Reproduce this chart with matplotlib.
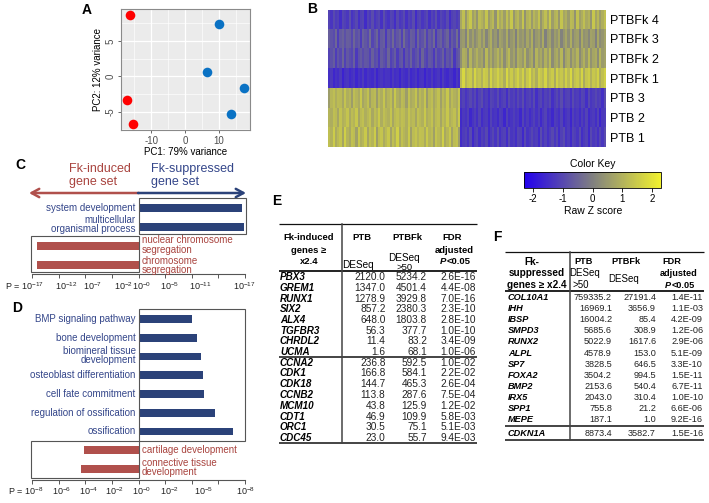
import numpy as np
import matplotlib
matplotlib.use('Agg')
import matplotlib.pyplot as plt
from matplotlib.colors import LinearSegmentedColormap
from matplotlib.patches import Rectangle

plt.rcParams['font.family'] = ['Liberation Sans', 'DejaVu Sans']
plt.rcParams['mathtext.fontset'] = 'custom'
plt.rcParams['mathtext.rm'] = 'Liberation Sans'
plt.rcParams['mathtext.it'] = 'Liberation Sans:italic'
plt.rcParams['mathtext.bf'] = 'Liberation Sans:bold'
plt.rcParams['axes.unicode_minus'] = False

# ---------------- data ----------------
# Panel A (PCA)
pca_ptb_x = [-16.2, -17.0, -15.3]
pca_ptb_y = [8.6, -3.4, -6.8]
pca_fk_x = [10.0, 6.6, 17.3, 13.5]
pca_fk_y = [7.4, 0.6, -1.7, -5.3]

# Panel B (heatmap)
heat_rows = ['PTBFk 4', 'PTBFk 3', 'PTBFk 2', 'PTBFk 1', 'PTB 3', 'PTB 2', 'PTB 1']
level_left = [-1.2, -0.8, -0.9, -1.45, 1.0, 1.1, 1.1]
level_right = [0.9, 0.45, 0.65, 1.3, -1.2, -1.35, -1.25]
amp_left = [0.35, 0.5, 0.45, 0.25, 0.5, 0.4, 0.55]
amp_right = [0.6, 0.5, 0.55, 0.5, 0.3, 0.3, 0.35]
row_shift = [0, 9, 17, 26, 5, 33, 41]
texture_left = [0.3, -0.4, 0.7, -0.1, 0.2, -0.8, 0.5, 0.1, -0.3, 0.9,
                -0.5, 0.0, 0.6, -0.7, 0.2, 0.4, -0.9, 0.3, -0.2, 0.8,
                -0.4, 0.1, 0.5, -0.6, 0.9, -0.1, -0.5, 0.4, 0.2, -0.8,
                0.6, -0.3, 0.0, 0.7, -0.6, 0.3, -0.1, 0.8, -0.9, 0.2,
                0.5, -0.4, 0.1, 0.6, -0.7, 0.3, -0.2, 0.9, -0.5, 0.4,
                0.0, -0.3, 0.7, -0.8, 0.2, 0.5, -0.1, 0.4]
texture_right = [-0.2, 0.6, -0.7, 0.3, 0.9, -0.4, 0.1, -0.8, 0.5, 0.2,
                 -0.3, 0.8, -0.6, 0.0, 0.4, -0.9, 0.7, -0.1, 0.3, -0.5,
                 0.6, -0.2, 0.9, -0.7, 0.1, 0.4, -0.4, 0.8, -0.9, 0.2,
                 0.5, -0.6, 0.3, -0.1, 0.7, -0.8, 0.0, 0.6, -0.3, 0.9,
                 -0.5, 0.2, 0.4, -0.7, 0.8, -0.2, 0.1, -0.6, 0.5, 0.3,
                 -0.9, 0.7, -0.4, 0.0, 0.6, -0.1, 0.2, -0.8, 0.9, -0.3,
                 0.4, -0.5, 0.1, 0.7]
cbar_ticks = [-2, -1, 0, 1, 2]

# Panel C (GO terms, -log10 P; positive = Fk-suppressed, negative = Fk-induced)
c_terms = ['system development', 'multicellular\norganismal process',
           'nuclear chromosome\nsegregation', 'chromosome\nsegregation']
c_scores = [16.5, 16.8, -16.2, -16.2]
c_tick_labels = ['P = 10$^{-17}$', '10$^{-12}$', '10$^{-7}$', '10$^{-2}$',
                 '10$^{-0}$', '10$^{-5}$', '10$^{-11}$', '10$^{-17}$']

# Panel D
d_terms = ['BMP signaling pathway', 'bone development', 'biomineral tissue\ndevelopment',
           'osteoblast differentiation', 'cell fate commitment', 'regulation of ossification',
           'ossification', 'cartilage development', 'connective tissue\ndevelopment']
d_scores = [4.05, 4.38, 4.72, 4.83, 4.9, 5.72, 7.08, -4.08, -4.3]
d_tick_labels = ['P = 10$^{-8}$', '10$^{-6}$', '10$^{-4}$', '10$^{-2}$',
                 '10$^{-0}$', '10$^{-2}$', '10$^{-5}$', '10$^{-8}$']

# Panel E table
e_genes = ['PBX3', 'GREM1', 'RUNX1', 'SIX2', 'ALX4', 'TGFBR3', 'CHRDL2', 'UCMA',
           'CCNA2', 'CDK1', 'CDK18', 'CCNB2', 'MCM10', 'CDT1', 'ORC1', 'CDC45']
e_ptb = ['2120.0', '1347.0', '1278.9', '857.2', '648.0', '56.3', '11.4', '1.6',
         '236.8', '166.8', '144.7', '113.8', '43.8', '46.9', '30.5', '23.0']
e_ptbfk = ['5234.2', '4501.4', '3929.8', '2380.3', '1803.8', '377.7', '83.2', '68.1',
           '592.5', '584.1', '465.3', '287.6', '125.9', '109.9', '75.1', '55.7']
e_fdr = ['2.6E-16', '4.4E-08', '7.0E-16', '2.3E-10', '2.8E-10', '1.0E-10', '3.4E-09', '1.0E-06',
         '1.0E-02', '2.2E-02', '2.6E-04', '7.5E-04', '1.2E-02', '5.8E-03', '5.1E-03', '9.4E-03']

# Panel F table
f_genes = ['COL10A1', 'IHH', 'IBSP', 'SMPD3', 'RUNX2', 'ALPL', 'SP7', 'FOXA2',
           'BMP2', 'IRX5', 'SPP1', 'MEPE', 'CDKN1A']
f_ptb = ['759335.2', '16969.1', '16004.2', '5685.6', '5022.9', '4578.9', '3828.5',
         '3504.2', '2153.6', '2043.0', '755.8', '187.1', '8873.4']
f_ptbfk = ['27191.4', '3656.9', '85.4', '308.9', '1617.6', '153.0', '646.5',
           '994.5', '540.4', '310.4', '21.2', '1.0', '3582.7']
f_fdr = ['1.4E-11', '1.1E-03', '4.2E-09', '1.2E-06', '2.9E-06', '5.1E-09', '3.3E-10',
         '1.5E-11', '6.7E-11', '1.0E-10', '6.6E-06', '9.2E-16', '1.5E-16']

# ---------------- style ----------------
RED = '#B0504C'
BLUE = '#2B4279'
RED_TXT = '#A9443F'
BLUE_TXT = '#34468A'
BOX = '#555555'

W, H = 709, 503
fig = plt.figure(figsize=(W / 100, H / 100), dpi=100)


def pax(l, t, r, b):
    return fig.add_axes([l / W, 1 - b / H, (r - l) / W, (b - t) / H])


ov = fig.add_axes([0, 0, 1, 1])
ov.set_xlim(0, W)
ov.set_ylim(H, 0)
ov.axis('off')

# panel letters
for let, (x, y) in zip('ABCDEF', [(87, 10), (312, 9), (20, 165), (17, 308), (277, 201), (497, 237)]):
    ov.text(x, y, let, fontsize=10, fontweight='bold', ha='center', va='center')

# ---------------- Panel A ----------------
axA = pax(121, 9, 250, 130)
axA.set_facecolor('#EBEBEB')
axA.scatter(pca_ptb_x, pca_ptb_y, s=48, color='#FF0000', zorder=3, linewidths=0)
axA.scatter(pca_fk_x, pca_fk_y, s=48, color='#0A72C4', zorder=3, linewidths=0)
axA.set_xlim(-18.9, 19.2)
axA.set_ylim(-7.6, 9.5)
axA.set_xticks([-10, 0, 10])
axA.set_yticks([-5, 0, 5])
axA.set_xticks([-15, -5, 5, 15], minor=True)
axA.set_yticks([-7.5, -2.5, 2.5, 7.5], minor=True)
axA.grid(True, which='major', color='white', lw=0.9)
axA.grid(True, which='minor', color='white', lw=0.45)
axA.set_axisbelow(True)
axA.tick_params(which='major', labelsize=7, labelcolor='#4D4D4D', color='#4D4D4D', length=2.5, width=0.6, pad=1.5)
axA.tick_params(which='minor', length=0)
for lab in axA.get_yticklabels():
    lab.set_rotation(90)
    lab.set_va('center')
for s in axA.spines.values():
    s.set_color('#8A8A8A')
    s.set_linewidth(0.8)
axA.set_xlabel('PC1: 79% variance', fontsize=7, labelpad=1)
axA.set_ylabel('PC2: 12% variance', fontsize=7, labelpad=2)

# ---------------- Panel B ----------------
cmap = LinearSegmentedColormap.from_list('bgy', ['#2200EE', '#808080', '#F2F22E'])
Z = []
for i in range(len(heat_rows)):
    left = level_left[i] + amp_left[i] * np.roll(np.array(texture_left), row_shift[i])
    right = level_right[i] + amp_right[i] * np.roll(np.array(texture_right), row_shift[i])
    Z.append(np.concatenate([left, right]))
Z = np.array(Z)
axB = pax(328, 9.5, 606, 147)
im = axB.imshow(Z, aspect='auto', interpolation='nearest', cmap=cmap, vmin=-2.3, vmax=2.3)
axB.set_xticks([])
axB.set_yticks(range(len(heat_rows)))
axB.set_yticklabels(heat_rows, fontsize=9)
axB.yaxis.tick_right()
axB.tick_params(axis='y', length=0, pad=3)
for s in axB.spines.values():
    s.set_visible(False)

# colour key
cax = pax(524, 172, 661, 188)
cb = fig.colorbar(im, cax=cax, orientation='horizontal')
cb.set_ticks(cbar_ticks)
cb.ax.tick_params(labelsize=7, length=3, width=0.6, pad=1.5)
cb.outline.set_linewidth(0.6)
ov.text(593, 164, 'Color Key', fontsize=7.5, ha='center', va='center')
ov.text(593, 211, 'Raw Z score', fontsize=7.5, ha='center', va='center')

# ---------------- Panel C ----------------
ov.annotate('', xy=(29, 193), xytext=(139, 193),
            arrowprops=dict(arrowstyle='->,head_length=0.55,head_width=0.3', color=RED, lw=1.8,
                            shrinkA=0, shrinkB=0))
ov.annotate('', xy=(246, 193), xytext=(138, 193),
            arrowprops=dict(arrowstyle='->,head_length=0.55,head_width=0.3', color=BLUE, lw=1.8,
                            shrinkA=0, shrinkB=0))
ov.text(69, 169, 'Fk-induced', color=RED_TXT, fontsize=9, ha='left', va='center')
ov.text(69, 182, 'gene set', color=RED_TXT, fontsize=9, ha='left', va='center')
ov.text(151, 169, 'Fk-suppressed', color=BLUE_TXT, fontsize=9, ha='left', va='center')
ov.text(151, 182, 'gene set', color=BLUE_TXT, fontsize=9, ha='left', va='center')


def go_panel(ax, terms, scores, lim, tick_labels, label_pos, label_y, box_blue, box_red, label_dy):
    y = np.arange(len(terms))
    cols = [BLUE if s > 0 else RED for s in scores]
    ax.barh(y, scores, height=0.42, color=cols, zorder=2)
    ax.set_xlim(-lim, lim)
    ax.set_yticks([])
    for k in ['left', 'right', 'top']:
        ax.spines[k].set_visible(False)
    ax.spines['bottom'].set_color('#555555')
    ax.spines['bottom'].set_linewidth(0.8)
    ax.set_xticks(np.linspace(-lim, lim, 9))
    ax.set_xticklabels([])
    ax.tick_params(axis='x', length=3, width=0.7, color='#555555')
    ax.patch.set_visible(False)
    for i, (t, s) in enumerate(zip(terms, scores)):
        if s > 0:
            ax.annotate(t, xy=(0, i + label_dy[i]), xytext=(-2, 0), textcoords='offset points',
                        ha='right', va='center', fontsize=7, color=BLUE_TXT, linespacing=0.9)
        else:
            ax.annotate(t, xy=(0, i + label_dy[i]), xytext=(2.5, 0), textcoords='offset points',
                        ha='left', va='center', fontsize=7, color=RED_TXT, linespacing=0.9)
    tr = ax.get_xaxis_transform()
    for j, (lab, xp) in enumerate(zip(tick_labels, label_pos)):
        ax.text(xp, label_y, lab, transform=tr, fontsize=6.5, ha='right' if j == 0 else 'center',
                va='center', color='#222222')
    for (x0, x1, y0, y1) in (box_blue, box_red):
        ax.add_patch(Rectangle((x0, y0), x1 - x0, y1 - y0, fill=False, ec=BOX, lw=0.8,
                               clip_on=False, zorder=3))


axC = pax(32, 196, 245, 274)
axC.set_ylim(3.47, -0.63)
go_panel(axC, c_terms, c_scores, 17,
         c_tick_labels, [-15.2, -11.48, -7.39, -2.44, 0.48, 5.0, 9.94, 16.95], -12 / 78,
         (0, 17.2, -0.53, 1.37), (-17.2, 0, 1.47, 3.37),
         [0, -0.15, -0.05, 0.02])

# ---------------- Panel D ----------------
axD = pax(32, 307, 245, 480)
axD.set_ylim(8.59, -0.64)
go_panel(axD, d_terms, d_scores, 8,
         d_tick_labels, [-7.15, -5.8, -3.78, -1.83, 0.2, 2.35, 4.85, 8.03], -11 / 173,
         (0, 8.0, -0.53, 6.51), (-8.05, 0, 6.51, 8.48),
         [0, 0, -0.05, 0, 0, 0, 0, 0, -0.08])


# ---------------- Tables ----------------
def pstar(x_center, y, size):
    # "P<0.05" with italic P
    x0 = x_center - 8.8 * size / 6.8
    ov.text(x0, y, 'P', fontsize=size, fontweight='bold', fontstyle='italic', ha='right', va='center')
    ov.text(x0, y, '<0.05', fontsize=size, fontweight='bold', ha='left', va='center')


def hline(y, x0, x1, lw):
    ov.plot([x0, x1], [y, y], color='#111111', lw=lw, solid_capstyle='butt')


# Table E
hs = 6.8
ov.text(309, 238, 'Fk-induced', fontsize=hs, fontweight='bold', ha='center', va='center')
ov.text(309, 250, 'genes ≥', fontsize=hs, fontweight='bold', ha='center', va='center')
ov.text(309, 262, 'x2.4', fontsize=hs, fontweight='bold', ha='center', va='center')
ov.text(362, 238, 'PTB', fontsize=hs, fontweight='bold', ha='center', va='center')
ov.text(358, 265.5, 'DESeq', fontsize=hs + 0.4, ha='center', va='center')
ov.text(407, 238, 'PTBFk', fontsize=hs, fontweight='bold', ha='center', va='center')
ov.text(404, 258, 'DESeq', fontsize=hs + 0.4, ha='center', va='center')
ov.text(405, 267, '>50', fontsize=hs, ha='center', va='center')
ov.text(452, 238, 'FDR', fontsize=hs, fontweight='bold', ha='center', va='center')
ov.text(454, 250, 'adjusted', fontsize=hs, fontweight='bold', ha='center', va='center')
pstar(455, 262, hs)
vs = 7.3
for i, (g, a, b, c) in enumerate(zip(e_genes, e_ptb, e_ptbfk, e_fdr)):
    y = 277 + 10.75 * i if i < 8 else 362.5 + 10.8 * (i - 8)
    ov.text(280, y, g, fontsize=vs - 0.2, fontweight='bold', fontstyle='italic', ha='left', va='center')
    ov.text(385.5, y, a, fontsize=vs, ha='right', va='center', color='#222222')
    ov.text(427, y, b, fontsize=vs, ha='right', va='center', color='#222222')
    ov.text(476, y, c, fontsize=vs, ha='right', va='center', color='#222222')
hline(224, 279, 477, 0.9)
hline(271, 279, 477, 1.3)
hline(357, 279, 477, 1.1)
hline(443, 279, 477, 1.1)
ov.plot([342, 342], [224, 443], color='#444444', lw=1.1)

# Table F
fs = 6.6
ov.text(532, 262, 'Fk-', fontsize=fs + 0.6, fontweight='bold', ha='center', va='center')
ov.text(537, 273, 'suppressed', fontsize=fs + 0.6, fontweight='bold', ha='center', va='center')
ov.text(537, 285, 'genes ≥ x2.4', fontsize=fs + 0.6, fontweight='bold', ha='center', va='center')
ov.text(584, 262, 'PTB', fontsize=fs, fontweight='bold', ha='center', va='center')
ov.text(585, 273, 'DESeq', fontsize=fs + 0.4, ha='center', va='center')
ov.text(581, 285, '>50', fontsize=fs + 0.4, ha='center', va='center')
ov.text(625.5, 262, 'PTBFk', fontsize=fs, fontweight='bold', ha='center', va='center')
ov.text(624, 279, 'DESeq', fontsize=fs + 0.4, ha='center', va='center')
ov.text(672, 262, 'FDR', fontsize=fs, fontweight='bold', ha='center', va='center')
ov.text(679, 273, 'adjusted', fontsize=fs, fontweight='bold', ha='center', va='center')
pstar(680, 285, fs)
ws = 6.6
for i, (g, a, b, c) in enumerate(zip(f_genes, f_ptb, f_ptbfk, f_fdr)):
    y = 297.5 + 11.1 * i if i < 12 else 433.5
    ov.text(508, y, g, fontsize=ws, fontweight='bold', fontstyle='italic', ha='left', va='center')
    ov.text(612, y, a, fontsize=ws, ha='right', va='center', color='#222222')
    ov.text(656, y, b, fontsize=ws, ha='right', va='center', color='#222222')
    ov.text(703, y, c, fontsize=ws, ha='right', va='center', color='#222222')
hline(252, 505, 704, 0.9)
hline(291, 505, 704, 1.3)
hline(426, 505, 704, 1.1)
hline(440, 505, 704, 1.1)
ov.plot([570, 570], [252, 440], color='#444444', lw=1.1)

fig.savefig('out.png', dpi=100)
